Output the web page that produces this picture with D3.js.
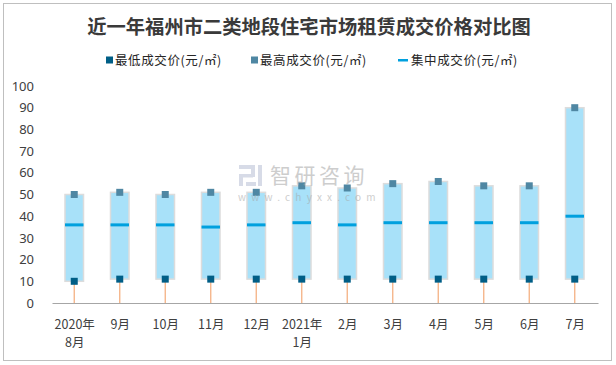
<!DOCTYPE html>
<html><head><meta charset="utf-8">
<script src="https://cdn.jsdelivr.net/npm/d3@7/dist/d3.min.js"></script>
<style>
html,body{margin:0;padding:0;background:#fff;}
text{font-family:"Noto Sans CJK SC","Noto Sans",sans-serif;}
</style></head>
<body><svg id="c" width="616" height="365"></svg>
<script>
const categories = ["2020年\n8月","9月","10月","11月","12月","2021年\n1月","2月","3月","4月","5月","6月","7月"];
const minPrice = [10,11,11,11,11,11,11,11,11,11,11,11];
const maxPrice = [50,51,50,51,51,54,53,55,56,54,54,90];
const midPrice = [36,36,36,35,36,37,36,37,37,37,37,40];
const yTicks = [0,10,20,30,40,50,60,70,80,90,100];
const seriesNames = ["最低成交价(元/㎡)","最高成交价(元/㎡)","集中成交价(元/㎡)"];

const svg = d3.select("#c");
svg.append("rect").attr("x",3.5).attr("y",3.5).attr("width",608).attr("height",357)
  .attr("fill","#fff").attr("stroke","#bfbfbf").attr("stroke-width",1);

svg.append("text").attr("x",309).attr("y",34).attr("text-anchor","middle")
  .attr("font-size",19.3).attr("font-weight","bold").attr("fill","#3a3a3a")
  .text("近一年福州市二类地段住宅市场租赁成交价格对比图");

const x = d3.scaleBand().domain(d3.range(categories.length)).range([52,598]);
const y = d3.scaleLinear().domain([0,100]).range([303,86]);

// y labels
const ya = svg.append("g").attr("transform","translate(34,0)")
  .call(d3.axisLeft(y).tickValues(yTicks).tickSize(0).tickPadding(0));
ya.select(".domain").remove();
ya.selectAll("text").attr("font-size",13).attr("fill","#404040")
  .style("font-family","'Noto Sans','Liberation Sans',sans-serif");

// x axis
const xa = svg.append("g").attr("transform","translate(0,303)")
  .call(d3.axisBottom(x).tickSize(0).tickFormat(""));
xa.select(".domain").attr("stroke","#a6a6a6").attr("stroke-width",1.2);
categories.forEach((c,i)=>{
  const t = svg.append("text").attr("x",x(i)+x.bandwidth()/2).attr("y",329)
    .attr("text-anchor","middle").attr("font-size",12.5).attr("fill","#404040");
  c.split("\n").forEach((line,j)=>{
    t.append("tspan").attr("x",x(i)+x.bandwidth()/2).attr("dy",j?18:0).text(line);
  });
});

const bw = 18.5;
const g = svg.append("g");
categories.forEach((c,i)=>{
  const cx = x(i)+x.bandwidth()/2 - 0.5;
  g.append("line").attr("x1",cx).attr("x2",cx).attr("y1",y(0)).attr("y2",y(minPrice[i]))
    .attr("stroke","#f4b183").attr("stroke-width",1.3);
  g.append("rect").attr("x",cx-bw/2).attr("y",y(maxPrice[i])).attr("width",bw)
    .attr("height",y(minPrice[i])-y(maxPrice[i]))
    .attr("fill","#a8e1f9").attr("stroke","#dcdcdc").attr("stroke-width",1.5);
  g.append("rect").attr("x",cx-bw/2).attr("y",y(midPrice[i])-1.5).attr("width",bw).attr("height",3)
    .attr("fill","#00a0de");
  g.append("rect").attr("x",cx-3.5).attr("y",y(maxPrice[i])-3.5).attr("width",7).attr("height",7)
    .attr("fill","#4f87a3");
  g.append("rect").attr("x",cx-3.5).attr("y",y(minPrice[i])-3.5).attr("width",7).attr("height",7)
    .attr("fill","#005e86");
});

// legend
const lg = svg.append("g");
const leg = [{x:106,type:"sq",c:"#005e86"},{x:251,type:"sq",c:"#4f87a3"},{x:398,type:"ln",c:"#00a0de"}];
leg.forEach((l,i)=>{
  if(l.type==="sq") lg.append("rect").attr("x",l.x).attr("y",56.5).attr("width",7).attr("height",7).attr("fill",l.c);
  else lg.append("rect").attr("x",l.x).attr("y",59).attr("width",10).attr("height",2.5).attr("fill",l.c);
  lg.append("text").attr("x",l.x+(l.type==="sq"?9:13)).attr("y",65).attr("font-size",12.5).attr("fill","#262626")
    .attr("letter-spacing",0.6).text(seriesNames[i]);
});

// watermark
const wm = svg.append("g").attr("opacity",0.55);
[[239,165,16,4],[251,165,4,12],[239,174,14,3.5],[239,174,4,12],[246,182,10,4],[258,165,4,21]].forEach(r=>{
  wm.append("rect").attr("x",r[0]).attr("y",r[1]).attr("width",r[2]).attr("height",r[3]).attr("fill","#b8bfd4");
});
wm.append("text").attr("x",270).attr("y",183).attr("font-size",21).attr("fill","#a6a6a6")
  .attr("letter-spacing",3.5).text("智研咨询");
wm.append("text").attr("x",238).attr("y",201).attr("font-size",10).attr("fill","#a6a6a6")
  .attr("letter-spacing",5.2).text("www.chyxx.com");
</script></body></html>
